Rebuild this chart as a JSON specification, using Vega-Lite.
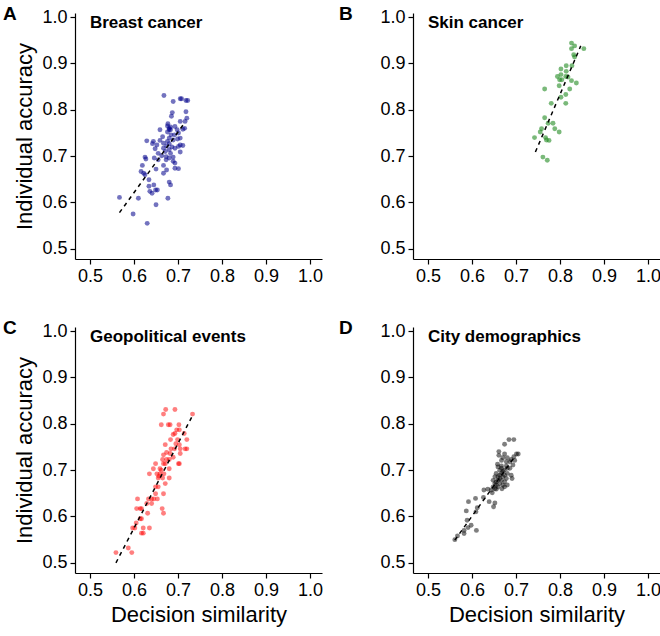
{
  "$schema": "https://vega.github.io/schema/vega-lite/v6.json",
  "background": "white",
  "padding": {"left": 3, "top": 5, "right": 0, "bottom": 4},
  "config": {
    "view": {"stroke": null},
    "font": "Liberation Sans",
    "axis": {"domainColor": "black", "domainWidth": 1.2, "tickColor": "black", "tickSize": 5, "tickWidth": 1.2, "labelColor": "black", "labelFontSize": 18, "labelFont": "Liberation Sans", "titleFont": "Liberation Sans", "titleFontSize": 22, "titleFontWeight": "normal", "titleColor": "black", "grid": false, "labelPadding": 3, "titlePadding": 5},
    "title": {"font": "Liberation Sans", "fontSize": 19, "fontWeight": "bold", "color": "black", "anchor": "start", "frame": "group"}
  },
  "datasets": {
    "A": [
      {"x":0.668,"y":0.831},{"x":0.705,"y":0.824},{"x":0.708,"y":0.824},{"x":0.689,"y":0.818},{"x":0.718,"y":0.820},{"x":0.722,"y":0.820},{"x":0.687,"y":0.794},{"x":0.718,"y":0.796},{"x":0.685,"y":0.786},{"x":0.720,"y":0.782},{"x":0.705,"y":0.775},{"x":0.677,"y":0.770},{"x":0.683,"y":0.763},{"x":0.693,"y":0.764},{"x":0.711,"y":0.758},{"x":0.715,"y":0.760},{"x":0.659,"y":0.757},{"x":0.680,"y":0.760},{"x":0.676,"y":0.752},{"x":0.665,"y":0.742},{"x":0.684,"y":0.746},{"x":0.701,"y":0.750},{"x":0.680,"y":0.739},{"x":0.689,"y":0.735},{"x":0.699,"y":0.737},{"x":0.705,"y":0.739},{"x":0.629,"y":0.733},{"x":0.644,"y":0.732},{"x":0.642,"y":0.727},{"x":0.652,"y":0.724},{"x":0.705,"y":0.724},{"x":0.711,"y":0.723},{"x":0.674,"y":0.722},{"x":0.667,"y":0.717},{"x":0.680,"y":0.714},{"x":0.671,"y":0.710},{"x":0.683,"y":0.706},{"x":0.655,"y":0.706},{"x":0.705,"y":0.709},{"x":0.663,"y":0.701},{"x":0.673,"y":0.699},{"x":0.680,"y":0.696},{"x":0.673,"y":0.692},{"x":0.625,"y":0.698},{"x":0.627,"y":0.694},{"x":0.646,"y":0.696},{"x":0.689,"y":0.698},{"x":0.667,"y":0.680},{"x":0.693,"y":0.685},{"x":0.674,"y":0.670},{"x":0.693,"y":0.674},{"x":0.701,"y":0.673},{"x":0.667,"y":0.663},{"x":0.650,"y":0.672},{"x":0.619,"y":0.680},{"x":0.616,"y":0.667},{"x":0.622,"y":0.663},{"x":0.625,"y":0.660},{"x":0.634,"y":0.649},{"x":0.645,"y":0.638},{"x":0.634,"y":0.635},{"x":0.636,"y":0.624},{"x":0.641,"y":0.620},{"x":0.649,"y":0.627},{"x":0.653,"y":0.627},{"x":0.680,"y":0.644},{"x":0.683,"y":0.638},{"x":0.610,"y":0.609},{"x":0.677,"y":0.609},{"x":0.567,"y":0.611},{"x":0.650,"y":0.595},{"x":0.598,"y":0.575},{"x":0.630,"y":0.555},{"x":0.680,"y":0.727},{"x":0.676,"y":0.732},{"x":0.692,"y":0.746},{"x":0.698,"y":0.757},{"x":0.686,"y":0.720},{"x":0.693,"y":0.717},{"x":0.701,"y":0.721},{"x":0.680,"y":0.757},{"x":0.676,"y":0.765},{"x":0.659,"y":0.734},{"x":0.667,"y":0.728},{"x":0.648,"y":0.716},{"x":0.655,"y":0.692},{"x":0.689,"y":0.689},{"x":0.683,"y":0.757},{"x":0.716,"y":0.775}
    ],
    "B": [
      {"x":0.826,"y":0.944},{"x":0.833,"y":0.938},{"x":0.826,"y":0.932},{"x":0.854,"y":0.932},{"x":0.831,"y":0.919},{"x":0.833,"y":0.914},{"x":0.827,"y":0.895},{"x":0.814,"y":0.895},{"x":0.802,"y":0.888},{"x":0.814,"y":0.883},{"x":0.794,"y":0.872},{"x":0.802,"y":0.876},{"x":0.799,"y":0.865},{"x":0.804,"y":0.865},{"x":0.813,"y":0.872},{"x":0.818,"y":0.871},{"x":0.826,"y":0.863},{"x":0.837,"y":0.858},{"x":0.798,"y":0.852},{"x":0.765,"y":0.845},{"x":0.822,"y":0.845},{"x":0.813,"y":0.833},{"x":0.802,"y":0.827},{"x":0.780,"y":0.814},{"x":0.813,"y":0.814},{"x":0.765,"y":0.783},{"x":0.773,"y":0.771},{"x":0.784,"y":0.771},{"x":0.758,"y":0.759},{"x":0.788,"y":0.759},{"x":0.755,"y":0.752},{"x":0.798,"y":0.752},{"x":0.742,"y":0.740},{"x":0.767,"y":0.740},{"x":0.769,"y":0.735},{"x":0.775,"y":0.734},{"x":0.761,"y":0.698},{"x":0.771,"y":0.691}
    ],
    "C": [
      {"x":0.672,"y":0.831},{"x":0.693,"y":0.831},{"x":0.667,"y":0.821},{"x":0.733,"y":0.821},{"x":0.662,"y":0.798},{"x":0.678,"y":0.798},{"x":0.682,"y":0.798},{"x":0.702,"y":0.798},{"x":0.697,"y":0.787},{"x":0.703,"y":0.787},{"x":0.693,"y":0.779},{"x":0.714,"y":0.779},{"x":0.689,"y":0.777},{"x":0.683,"y":0.766},{"x":0.699,"y":0.766},{"x":0.720,"y":0.766},{"x":0.671,"y":0.755},{"x":0.703,"y":0.755},{"x":0.684,"y":0.746},{"x":0.692,"y":0.746},{"x":0.705,"y":0.746},{"x":0.720,"y":0.746},{"x":0.716,"y":0.746},{"x":0.682,"y":0.736},{"x":0.705,"y":0.736},{"x":0.667,"y":0.733},{"x":0.689,"y":0.728},{"x":0.665,"y":0.723},{"x":0.674,"y":0.723},{"x":0.680,"y":0.723},{"x":0.701,"y":0.714},{"x":0.703,"y":0.714},{"x":0.649,"y":0.714},{"x":0.667,"y":0.714},{"x":0.671,"y":0.714},{"x":0.644,"y":0.703},{"x":0.659,"y":0.703},{"x":0.680,"y":0.703},{"x":0.652,"y":0.692},{"x":0.635,"y":0.692},{"x":0.659,"y":0.692},{"x":0.668,"y":0.692},{"x":0.655,"y":0.683},{"x":0.665,"y":0.683},{"x":0.680,"y":0.683},{"x":0.671,"y":0.671},{"x":0.649,"y":0.664},{"x":0.649,"y":0.649},{"x":0.667,"y":0.649},{"x":0.653,"y":0.638},{"x":0.645,"y":0.638},{"x":0.633,"y":0.638},{"x":0.640,"y":0.638},{"x":0.608,"y":0.638},{"x":0.629,"y":0.628},{"x":0.640,"y":0.628},{"x":0.606,"y":0.617},{"x":0.614,"y":0.617},{"x":0.617,"y":0.617},{"x":0.664,"y":0.617},{"x":0.631,"y":0.607},{"x":0.667,"y":0.607},{"x":0.605,"y":0.586},{"x":0.597,"y":0.575},{"x":0.602,"y":0.575},{"x":0.614,"y":0.595},{"x":0.617,"y":0.595},{"x":0.621,"y":0.575},{"x":0.635,"y":0.575},{"x":0.617,"y":0.564},{"x":0.621,"y":0.564},{"x":0.559,"y":0.522},{"x":0.587,"y":0.532},{"x":0.595,"y":0.522},{"x":0.655,"y":0.664},{"x":0.674,"y":0.738},{"x":0.695,"y":0.757},{"x":0.662,"y":0.700},{"x":0.657,"y":0.687}
    ],
    "D": [
      {"x":0.684,"y":0.766},{"x":0.695,"y":0.766},{"x":0.674,"y":0.756},{"x":0.661,"y":0.740},{"x":0.661,"y":0.732},{"x":0.674,"y":0.735},{"x":0.701,"y":0.735},{"x":0.695,"y":0.729},{"x":0.670,"y":0.727},{"x":0.680,"y":0.727},{"x":0.689,"y":0.723},{"x":0.658,"y":0.713},{"x":0.667,"y":0.709},{"x":0.678,"y":0.709},{"x":0.693,"y":0.711},{"x":0.686,"y":0.704},{"x":0.663,"y":0.700},{"x":0.673,"y":0.700},{"x":0.680,"y":0.704},{"x":0.655,"y":0.693},{"x":0.667,"y":0.693},{"x":0.680,"y":0.693},{"x":0.689,"y":0.689},{"x":0.652,"y":0.686},{"x":0.659,"y":0.686},{"x":0.670,"y":0.686},{"x":0.691,"y":0.682},{"x":0.648,"y":0.678},{"x":0.659,"y":0.678},{"x":0.667,"y":0.678},{"x":0.674,"y":0.675},{"x":0.652,"y":0.671},{"x":0.663,"y":0.671},{"x":0.670,"y":0.668},{"x":0.655,"y":0.668},{"x":0.648,"y":0.664},{"x":0.659,"y":0.664},{"x":0.668,"y":0.660},{"x":0.644,"y":0.657},{"x":0.636,"y":0.659},{"x":0.627,"y":0.657},{"x":0.646,"y":0.651},{"x":0.655,"y":0.659},{"x":0.608,"y":0.639},{"x":0.626,"y":0.641},{"x":0.592,"y":0.632},{"x":0.639,"y":0.632},{"x":0.652,"y":0.629},{"x":0.649,"y":0.621},{"x":0.612,"y":0.619},{"x":0.587,"y":0.612},{"x":0.609,"y":0.610},{"x":0.589,"y":0.592},{"x":0.598,"y":0.581},{"x":0.591,"y":0.576},{"x":0.582,"y":0.570},{"x":0.610,"y":0.570},{"x":0.582,"y":0.563},{"x":0.567,"y":0.558},{"x":0.561,"y":0.550},{"x":0.663,"y":0.689},{"x":0.674,"y":0.689},{"x":0.678,"y":0.682},{"x":0.655,"y":0.675},{"x":0.663,"y":0.682},{"x":0.670,"y":0.697},{"x":0.678,"y":0.718},{"x":0.686,"y":0.718},{"x":0.697,"y":0.721},{"x":0.705,"y":0.735},{"x":0.667,"y":0.721},{"x":0.659,"y":0.707},{"x":0.674,"y":0.664},{"x":0.680,"y":0.668},{"x":0.652,"y":0.660},{"x":0.667,"y":0.704}
    ],
    "LA": [{"x":0.567,"y":0.578},{"x":0.712,"y":0.768}],
    "LB": [{"x":0.744,"y":0.709},{"x":0.847,"y":0.938}],
    "LC": [{"x":0.559,"y":0.500},{"x":0.733,"y":0.818}],
    "LD": [{"x":0.561,"y":0.549},{"x":0.697,"y":0.729}]
  },
  "spacing": 34,
  "vconcat": [
    {
      "spacing": 16,
      "hconcat": [
        {
          "width": 247, "height": 246,
          "title": {"text": "A", "dx": -72, "offset": -16},
          "layer": [
            {"data": {"name": "A"}, "mark": {"type": "circle", "size": 24, "color": "darkblue", "opacity": 0.55},
             "encoding": {
               "x": {"field": "x", "type": "quantitative", "scale": {"domain": [0.466, 1.027], "nice": false, "zero": false}, "axis": {"values": [0.5,0.6,0.7,0.8,0.9,1.0], "format": ".1f", "title": null}},
               "y": {"field": "y", "type": "quantitative", "scale": {"domain": [0.478, 1.009], "nice": false, "zero": false}, "axis": {"values": [0.5,0.6,0.7,0.8,0.9,1.0], "format": ".1f", "title": "Individual accuracy"}}}},
            {"data": {"name": "LA"}, "mark": {"type": "line", "color": "black", "strokeDash": [4, 4], "strokeWidth": 1.5},
             "encoding": {"x": {"field": "x", "type": "quantitative"}, "y": {"field": "y", "type": "quantitative"}}},
            {"data": {"values": [{"x": 0.5, "y": 1.0, "label": "Breast cancer"}]}, "mark": {"type": "text", "align": "left", "baseline": "top", "dy": -2, "fontWeight": "bold", "fontSize": 17, "color": "black"},
             "encoding": {"x": {"field": "x", "type": "quantitative"}, "y": {"field": "y", "type": "quantitative"}, "text": {"field": "label"}}}
          ]
        },
        {
          "width": 247, "height": 246,
          "title": {"text": "B", "dx": -74, "offset": -16},
          "layer": [
            {"data": {"name": "B"}, "mark": {"type": "circle", "size": 24, "color": "#228B22", "opacity": 0.6},
             "encoding": {
               "x": {"field": "x", "type": "quantitative", "scale": {"domain": [0.466, 1.027], "nice": false, "zero": false}, "axis": {"values": [0.5,0.6,0.7,0.8,0.9,1.0], "format": ".1f", "title": null}},
               "y": {"field": "y", "type": "quantitative", "scale": {"domain": [0.478, 1.009], "nice": false, "zero": false}, "axis": {"values": [0.5,0.6,0.7,0.8,0.9,1.0], "format": ".1f", "title": null}}}},
            {"data": {"name": "LB"}, "mark": {"type": "line", "color": "black", "strokeDash": [4, 4], "strokeWidth": 1.5},
             "encoding": {"x": {"field": "x", "type": "quantitative"}, "y": {"field": "y", "type": "quantitative"}}},
            {"data": {"values": [{"x": 0.5, "y": 1.0, "label": "Skin cancer"}]}, "mark": {"type": "text", "align": "left", "baseline": "top", "dy": -2, "fontWeight": "bold", "fontSize": 17, "color": "black"},
             "encoding": {"x": {"field": "x", "type": "quantitative"}, "y": {"field": "y", "type": "quantitative"}, "text": {"field": "label"}}}
          ]
        }
      ]
    },
    {
      "spacing": 16,
      "hconcat": [
        {
          "width": 247, "height": 246,
          "title": {"text": "C", "dx": -72, "offset": -16},
          "layer": [
            {"data": {"name": "C"}, "mark": {"type": "circle", "size": 24, "color": "red", "opacity": 0.5},
             "encoding": {
               "x": {"field": "x", "type": "quantitative", "scale": {"domain": [0.466, 1.027], "nice": false, "zero": false}, "axis": {"values": [0.5,0.6,0.7,0.8,0.9,1.0], "format": ".1f", "title": "Decision similarity"}},
               "y": {"field": "y", "type": "quantitative", "scale": {"domain": [0.478, 1.009], "nice": false, "zero": false}, "axis": {"values": [0.5,0.6,0.7,0.8,0.9,1.0], "format": ".1f", "title": "Individual accuracy"}}}},
            {"data": {"name": "LC"}, "mark": {"type": "line", "color": "black", "strokeDash": [4, 4], "strokeWidth": 1.5},
             "encoding": {"x": {"field": "x", "type": "quantitative"}, "y": {"field": "y", "type": "quantitative"}}},
            {"data": {"values": [{"x": 0.5, "y": 1.0, "label": "Geopolitical events"}]}, "mark": {"type": "text", "align": "left", "baseline": "top", "dy": -2, "fontWeight": "bold", "fontSize": 17, "color": "black"},
             "encoding": {"x": {"field": "x", "type": "quantitative"}, "y": {"field": "y", "type": "quantitative"}, "text": {"field": "label"}}}
          ]
        },
        {
          "width": 247, "height": 246,
          "title": {"text": "D", "dx": -74, "offset": -16},
          "layer": [
            {"data": {"name": "D"}, "mark": {"type": "circle", "size": 24, "color": "black", "opacity": 0.5},
             "encoding": {
               "x": {"field": "x", "type": "quantitative", "scale": {"domain": [0.466, 1.027], "nice": false, "zero": false}, "axis": {"values": [0.5,0.6,0.7,0.8,0.9,1.0], "format": ".1f", "title": "Decision similarity"}},
               "y": {"field": "y", "type": "quantitative", "scale": {"domain": [0.478, 1.009], "nice": false, "zero": false}, "axis": {"values": [0.5,0.6,0.7,0.8,0.9,1.0], "format": ".1f", "title": null}}}},
            {"data": {"name": "LD"}, "mark": {"type": "line", "color": "black", "strokeDash": [4, 4], "strokeWidth": 1.5},
             "encoding": {"x": {"field": "x", "type": "quantitative"}, "y": {"field": "y", "type": "quantitative"}}},
            {"data": {"values": [{"x": 0.5, "y": 1.0, "label": "City demographics"}]}, "mark": {"type": "text", "align": "left", "baseline": "top", "dy": -2, "fontWeight": "bold", "fontSize": 17, "color": "black"},
             "encoding": {"x": {"field": "x", "type": "quantitative"}, "y": {"field": "y", "type": "quantitative"}, "text": {"field": "label"}}}
          ]
        }
      ]
    }
  ]
}
